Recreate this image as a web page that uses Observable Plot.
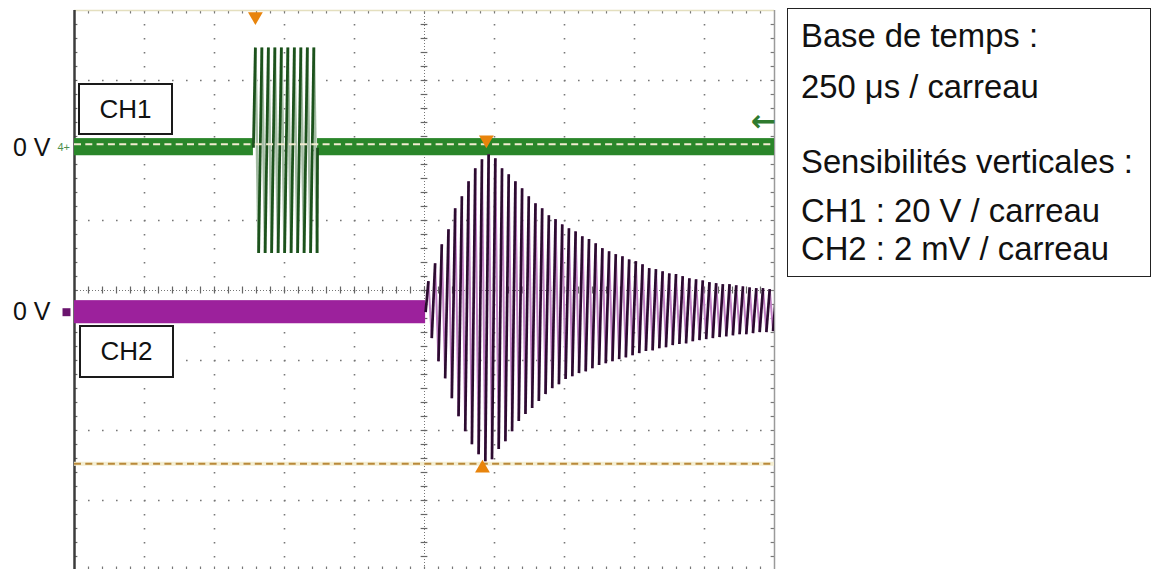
<!DOCTYPE html>
<html><head><meta charset="utf-8">
<script src="https://cdn.jsdelivr.net/npm/d3@7"></script>
<script src="https://cdn.jsdelivr.net/npm/@observablehq/plot@0.6"></script>
<style>
html,body{margin:0;padding:0;background:#fff;overflow:hidden;}
#wrap{position:relative;width:1154px;height:569px;overflow:hidden;font-family:"Liberation Sans",Arial,sans-serif;}
#wrap > svg{position:absolute;left:0;top:0;}
.chbox{position:absolute;border:2px solid #1a1a1a;background:#fff;box-sizing:border-box;font-size:26px;color:#111;display:flex;align-items:center;justify-content:center;}
#info{position:absolute;left:787px;top:8px;width:364px;height:269px;border:1.5px solid #222;box-sizing:border-box;}
</style></head>
<body><div id="wrap"></div>
<script>
// ---------- data ----------
const timePerDiv = 250;          // µs / carreau
const ch1VoltsPerDiv = 20;       // V / carreau
const ch2MilliVoltsPerDiv = 2;   // mV / carreau
const ch1ZeroDiv = 2.04;         // CH1 zero level (divisions from centre)
const ch2ZeroDiv = -0.31;        // CH2 zero level

const ch1NoiseBand = [-2.3, 2.6];   // V
const ch2NoiseBand = [-0.33, 0.33]; // mV

// CH1 : emitted burst
const ch1BurstStart = 639, ch1BurstEnd = 868;   // µs
const ch1FirstPeak = 646, ch1Period = 23.2;      // µs
const ch1Tops    = [28.6, 28.6, 28.6, 28.6, 28.6, 28.6, 28.6, 28.6, 28.6, 28.6];
const ch1Bottoms = [-30.1, -30.1, -30.1, -30.1, -30.1, -30.1, -30.1, -30.1, -30.1, -30.1];

// CH2 : received signal
const ch2Start = 1254, ch2FirstPeak = 1264, ch2Period = 23.9; // µs
const ch2Tops = [0.89, 1.40, 1.94, 2.37, 2.97, 3.31, 3.74, 4.11, 4.37, 4.51,
  4.40, 4.11, 3.94, 3.74, 3.54, 3.31, 3.11, 2.97, 2.77, 2.66,
  2.51, 2.40, 2.31, 2.17, 2.09, 1.97, 1.83, 1.74, 1.66, 1.60,
  1.51, 1.46, 1.37, 1.26, 1.23, 1.17, 1.11, 1.09, 1.03, 0.97,
  0.94, 0.91, 0.86, 0.83, 0.80, 0.80, 0.77, 0.74, 0.71, 0.69,
  0.69, 0.66, 0.63];
const ch2Bottoms = [-0.74, -1.40, -1.89, -2.46, -2.97, -3.40, -3.77, -4.06, -4.26, -4.20,
  -3.91, -3.69, -3.40, -3.11, -2.91, -2.74, -2.54, -2.34, -2.17, -2.06,
  -1.91, -1.83, -1.74, -1.69, -1.60, -1.51, -1.46, -1.40, -1.34, -1.29,
  -1.23, -1.17, -1.11, -1.09, -1.03, -1.00, -0.94, -0.91, -0.89, -0.83,
  -0.80, -0.77, -0.74, -0.71, -0.69, -0.66, -0.63, -0.63, -0.60, -0.57,
  -0.57, -0.54, -0.54];

const cursorLevels = [4.8, -4.33];        // mV on CH2
const cursorMarkTimes = [1471, 1457];     // µs
const triggerTime = 646;                  // µs
const ch1TriggerLevel = 7.6;              // V

const zeroLabels = ["0 V", "0 V"];
const channelNames = ["CH1", "CH2"];
const infoLines = ["Base de temps :", "250 μs / carreau", "Sensibilités verticales :",
                   "CH1 : 20 V / carreau", "CH2 : 2 mV / carreau"];

// ---------- helpers ----------
const nDivX = 10, nDivY = 8;
const tMax = nDivX * timePerDiv;
const ch1 = v => ch1ZeroDiv + v / ch1VoltsPerDiv;
const ch2 = v => ch2ZeroDiv + v / ch2MilliVoltsPerDiv;

function zigzag(start, firstPeak, period, tops, bottoms, end) {
  const pts = [{t: start, v: 0}];
  tops.forEach((top, k) => {
    pts.push({t: firstPeak + k * period, v: top});
    pts.push({t: firstPeak + (k + 0.5) * period, v: bottoms[k]});
  });
  if (end != null) pts.push({t: end, v: 0});
  return pts;
}
function segments(pts, toDiv) {
  return d3.pairs(pts).map(([a, b]) => ({t1: a.t, t2: b.t, y1: toDiv(a.v), y2: toDiv(b.v), rising: b.v > a.v}));
}
const ch1Segs = segments(zigzag(ch1BurstStart, ch1FirstPeak, ch1Period, ch1Tops, ch1Bottoms, ch1BurstEnd), ch1);
const ch2Segs = segments(zigzag(ch2Start, ch2FirstPeak, ch2Period, ch2Tops, ch2Bottoms, null), ch2);

const majorX = d3.range(1, nDivX).filter(i => i !== nDivX / 2).map(i => i * timePerDiv);
const majorY = d3.range(-nDivY / 2 + 1, nDivY / 2).filter(i => i !== 0);
const minorX = d3.range(1, nDivX * 5).map(i => i * timePerDiv / 5);
const minorY = d3.range(-nDivY / 2 * 5 + 1, nDivY / 2 * 5).map(i => i / 5);
const tickLenT = 12, tickLenDiv = 0.05;

const orange = "#e8840c";
const chart = Plot.plot({
  width: 1154, height: 570,
  marginLeft: 74, marginRight: 380, marginTop: 10, marginBottom: 0,
  x: {domain: [0, tMax], axis: null},
  y: {domain: [-nDivY / 2, nDivY / 2], axis: null},
  style: {fontFamily: "Liberation Sans, Arial, sans-serif", background: "transparent", overflow: "visible"},
  marks: [
    // graticule
    Plot.ruleX(majorX, {stroke: "#777", strokeWidth: 1.6, strokeDasharray: "1.6 12.4"}),
    Plot.ruleY(majorY, {stroke: "#777", strokeWidth: 1.6, strokeDasharray: "1.6 12.4"}),
    Plot.ruleX([tMax / 2], {stroke: "#777", strokeWidth: 1, strokeDasharray: "1 2"}),
    Plot.ruleY([0], {stroke: "#777", strokeWidth: 1, strokeDasharray: "1 2"}),
    Plot.ruleY(minorY, {x1: tMax / 2 - tickLenT, x2: tMax / 2 + tickLenT, stroke: "#666", strokeWidth: 1.2}),
    Plot.ruleX(minorX, {y1: -tickLenDiv, y2: tickLenDiv, stroke: "#666", strokeWidth: 1.2}),
    Plot.ruleY(minorY, {x1: 0, x2: tickLenT, stroke: "#666", strokeWidth: 1.2}),
    Plot.ruleY(minorY, {x1: tMax - tickLenT, x2: tMax, stroke: "#777", strokeWidth: 1.2}),
    Plot.ruleX(minorX, {y1: nDivY / 2, y2: nDivY / 2 - tickLenDiv, stroke: "#777", strokeWidth: 1.2}),
    Plot.ruleX(minorX, {y1: -nDivY / 2, y2: -nDivY / 2 + tickLenDiv, stroke: "#777", strokeWidth: 1.2}),
    // frame
    Plot.ruleY([nDivY / 2], {stroke: "#e4dfbf", strokeWidth: 1.5}),
    Plot.ruleX([tMax], {stroke: "#9a9a9a", strokeWidth: 1.5}),
    Plot.ruleX([0], {stroke: "#3c3c3c", strokeWidth: 2.5}),
    // lower cursor
    Plot.ruleY([ch2(cursorLevels[1])], {stroke: "#f4eed2", strokeWidth: 4}),
    Plot.ruleY([ch2(cursorLevels[1])], {stroke: "#b9893a", strokeWidth: 2, strokeDasharray: "7 4.3"}),
    // CH1 noise band
    Plot.rect([{a: 0, b: ch1BurstStart}, {a: ch1BurstEnd, b: tMax}],
      {x1: "a", x2: "b", y1: ch1(ch1NoiseBand[0]), y2: ch1(ch1NoiseBand[1]), fill: "#2a862a", inset: 0}),
    // CH2 noise band
    Plot.rect([{a: 0, b: ch2Start}],
      {x1: "a", x2: "b", y1: ch2(ch2NoiseBand[0]), y2: ch2(ch2NoiseBand[1]), fill: "#9c219c", inset: 0}),
    // CH1 burst
    Plot.link(ch1Segs.filter(s => !s.rising), {x1: "t1", x2: "t2", y1: "y1", y2: "y2", stroke: "#a3bca3", strokeWidth: 2.6, clip: true}),
    Plot.link(ch1Segs.filter(s => s.rising), {x1: "t1", x2: "t2", y1: "y1", y2: "y2", stroke: "#1c521c", strokeWidth: 2.8, clip: true}),
    // CH2 received
    Plot.link(ch2Segs.filter(s => !s.rising), {x1: "t1", x2: "t2", y1: "y1", y2: "y2", stroke: "#c07ec4", strokeWidth: 2, clip: true}),
    Plot.link(ch2Segs.filter(s => s.rising), {x1: "t1", x2: "t2", y1: "y1", y2: "y2", stroke: "#2c0b30", strokeWidth: 2.7, clip: true}),
    // upper cursor (over CH1 trace)
    Plot.ruleY([ch2(cursorLevels[0])], {stroke: "#f2ecd0", strokeWidth: 2, strokeDasharray: "7 4.3"}),
    // markers
    Plot.dot([triggerTime], {x: d => d, y: nDivY / 2, dy: 6, symbol: "triangle", r: 5.5, rotate: 180, fill: orange}),
    Plot.dot([cursorMarkTimes[0]], {x: d => d, y: ch2(cursorLevels[0]), dy: -4.5, symbol: "triangle", r: 5.5, rotate: 180, fill: orange}),
    Plot.dot([cursorMarkTimes[1]], {x: d => d, y: ch2(cursorLevels[1]), dy: 4.5, symbol: "triangle", r: 5.5, fill: orange}),
    Plot.text(["←"], {x: tMax, y: ch1(ch1TriggerLevel), dx: -11, text: d => d, fill: "#2f7a2f", fontSize: 30, fontWeight: "bold", fontFamily: "DejaVu Sans"}),
    Plot.text(["4+"], {x: 0, y: ch1ZeroDiv, dx: -17, textAnchor: "start", text: d => d, fill: "#4d8f4d", fontSize: 11}),
    Plot.dot([0], {x: 0, y: ch2ZeroDiv, dx: -8, symbol: "square", r: 4.5, fill: "#6a146e"}),
    // zero labels
    Plot.text([ch1ZeroDiv, ch2ZeroDiv], {x: 0, y: d => d, dx: -24, text: (d, i) => zeroLabels[i], textAnchor: "end", fontSize: 25, fill: "#111"})
  ]
});

const wrap = document.getElementById("wrap");
wrap.appendChild(chart);

// channel boxes
const boxes = [{left: 78, top: 83, w: 95, h: 52}, {left: 79, top: 325, w: 95, h: 53}];
channelNames.forEach((name, i) => {
  const d = document.createElement("div");
  d.className = "chbox";
  Object.assign(d.style, {left: boxes[i].left + "px", top: boxes[i].top + "px", width: boxes[i].w + "px", height: boxes[i].h + "px"});
  d.textContent = name;
  wrap.appendChild(d);
});

// info box
const info = document.createElement("div");
info.id = "info";
wrap.appendChild(info);
const baselines = [47, 98, 173, 222, 260];
const svg = d3.create("svg").attr("width", 1154).attr("height", 569)
  .style("pointer-events", "none");
svg.selectAll("text").data(infoLines).join("text")
  .attr("x", 801).attr("y", (d, i) => baselines[i])
  .attr("font-family", "Liberation Sans, Arial, sans-serif")
  .attr("font-size", 32.8).attr("fill", "#111")
  .text(d => d);
wrap.appendChild(svg.node());
</script>
</body></html>
